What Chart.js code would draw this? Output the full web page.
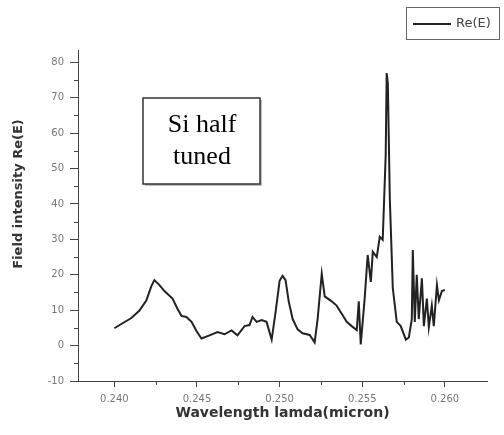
<!DOCTYPE html>
<html>
<head>
<meta charset="utf-8">
<script src="https://cdn.jsdelivr.net/npm/chart.js@4.4.0/dist/chart.umd.min.js"></script>
<style>
  html, body { margin: 0; padding: 0; background: #fff; }
  #wrap { width: 504px; height: 435px; position: relative; }
</style>
</head>
<body>
<div id="wrap"><canvas id="chart" width="504" height="435"></canvas></div>
<script>
// --- dados ---
const wavelength = [
    0.24000, 0.24042, 0.24103, 0.24152, 0.24194, 0.24224, 0.24242, 0.24273, 0.24303, 0.24352,
    0.24382, 0.24406, 0.24436, 0.24467, 0.24497, 0.24527, 0.24576, 0.24624, 0.24667, 0.24709,
    0.24745, 0.24788, 0.24818, 0.24836, 0.24861, 0.24891, 0.24921, 0.24952, 0.24976, 0.25000,
    0.25018, 0.25036, 0.25055, 0.25079, 0.25109, 0.25139, 0.25182, 0.25212, 0.25230, 0.25255,
    0.25273, 0.25315, 0.25345, 0.25376, 0.25406, 0.25436, 0.25467, 0.25479, 0.25491, 0.25515,
    0.25533, 0.25552, 0.25564, 0.25588, 0.25606, 0.25624, 0.25642, 0.25648, 0.25655, 0.25667,
    0.25685, 0.25709, 0.25733, 0.25764, 0.25782, 0.25800, 0.25806, 0.25818, 0.25830, 0.25842,
    0.25861, 0.25873, 0.25891, 0.25903, 0.25921, 0.25933, 0.25952, 0.25964, 0.25982, 0.26000
];
const fieldRe = [
    4.9, 6.1, 7.8, 9.9, 12.8, 16.8, 18.5, 17.1, 15.4, 13.3,
    10.4, 8.4, 8.1, 6.7, 4.1, 2.0, 2.9, 3.8, 3.2, 4.3,
    2.9, 5.5, 5.8, 8.1, 6.7, 7.2, 6.7, 1.7, 9.6, 18.3,
    19.7, 18.5, 12.5, 7.5, 4.6, 3.5, 3.0, 0.9, 7.5, 20.3,
    13.9, 12.5, 11.3, 9.0, 6.7, 5.5, 4.4, 12.5, 0.3, 13.5,
    25.6, 18.0, 26.5, 25.0, 30.7, 29.9, 53.9, 77.0, 74.0, 41.4,
    16.2, 6.7, 5.5, 1.7, 2.3, 7.5, 27.0, 6.7, 20.0, 7.5,
    19.0, 5.5, 13.3, 5.2, 11.3, 5.5, 17.1, 12.8, 15.4, 15.7
];
const xTicks = [0.240, 0.245, 0.250, 0.255, 0.260];
const yTicks = [-10, 0, 10, 20, 30, 40, 50, 60, 70, 80];
const seriesName = 'Re(E)';
const yTitle = 'Field intensity Re(E)';
const xTitle = 'Wavelength lamda(micron)';
const noteLines = ['Si half', 'tuned'];

const axisColor = '#444';
const tickFont = { size: 10, family: '"DejaVu Sans", sans-serif' };
const points = wavelength.map((w, i) => ({ x: w, y: fieldRe[i] }));

// traços menores entre os principais
function minorValues(ticks) {
    const out = [];
    for (let i = 0; i < ticks.length - 1; i++) out.push((ticks[i] + ticks[i + 1]) / 2);
    return out;
}

const extrasPlugin = {
    id: 'extras',
    afterDraw(chart) {
        const ctx = chart.ctx;
        const xs = chart.scales.x, ys = chart.scales.y;
        ctx.save();
        ctx.strokeStyle = axisColor;
        ctx.lineWidth = 1;
        // minor ticks
        minorValues(xTicks).forEach(v => {
            const px = Math.round(xs.getPixelForValue(v)) + 0.5;
            ctx.beginPath(); ctx.moveTo(px, xs.top); ctx.lineTo(px, xs.top + 4); ctx.stroke();
        });
        minorValues(yTicks).forEach(v => {
            const py = Math.round(ys.getPixelForValue(v)) + 0.5;
            ctx.beginPath(); ctx.moveTo(ys.right - 4, py); ctx.lineTo(ys.right, py); ctx.stroke();
        });

        // título do eixo y (deslocado para cima como no original)
        ctx.save();
        ctx.translate(19, 194);
        ctx.rotate(-Math.PI / 2);
        ctx.fillStyle = '#333';
        ctx.font = 'bold 13px "DejaVu Sans", sans-serif';
        ctx.textAlign = 'center';
        ctx.textBaseline = 'middle';
        ctx.fillText(yTitle, 0, 0);
        ctx.restore();

        // caixa de texto
        ctx.fillStyle = 'rgba(0,0,0,0.25)';
        ctx.fillRect(145, 100, 117, 86);
        ctx.fillStyle = '#fff';
        ctx.fillRect(143, 98, 117, 86);
        ctx.strokeStyle = '#333';
        ctx.lineWidth = 1.5;
        ctx.strokeRect(143, 98, 117, 86);
        ctx.fillStyle = '#000';
        ctx.font = '26px "Liberation Serif", "Times New Roman", serif';
        ctx.textAlign = 'center';
        ctx.textBaseline = 'alphabetic';
        ctx.fillText(noteLines[0], 202, 132);
        ctx.fillText(noteLines[1], 202, 164);

        // legenda
        ctx.strokeStyle = '#666';
        ctx.lineWidth = 1;
        ctx.strokeRect(406.5, 7.5, 93, 32);
        ctx.strokeStyle = '#222';
        ctx.lineWidth = 2;
        ctx.beginPath(); ctx.moveTo(413, 24); ctx.lineTo(451, 24); ctx.stroke();
        ctx.fillStyle = '#444';
        ctx.font = '13px "DejaVu Sans", sans-serif';
        ctx.textAlign = 'left';
        ctx.textBaseline = 'middle';
        ctx.fillText(seriesName, 456, 24);
        ctx.restore();
    }
};

new Chart(document.getElementById('chart'), {
    type: 'line',
    data: {
        datasets: [{
            label: seriesName,
            data: points,
            borderColor: '#222',
            borderWidth: 2,
            pointRadius: 0,
            tension: 0,
            fill: false
        }]
    },
    options: {
        responsive: false,
        animation: false,
        layout: { padding: { top: 50, right: 17, left: 0, bottom: 0 } },
        plugins: { legend: { display: false }, tooltip: { enabled: false } },
        scales: {
            x: {
                type: 'linear',
                min: 0.2378,
                max: 0.26255,
                afterBuildTicks: s => { s.ticks = xTicks.map(v => ({ value: v })); },
                afterFit: s => { s.height = 54; },
                ticks: {
                    color: '#777',
                    font: tickFont,
                    padding: 6,
                    maxRotation: 0,
                    callback: v => v.toFixed(3)
                },
                grid: { drawOnChartArea: false, tickLength: 6, color: axisColor },
                border: { color: axisColor, width: 1 },
                title: {
                    display: true,
                    text: xTitle,
                    color: '#333',
                    font: { size: 14, weight: 'bold', family: '"DejaVu Sans", sans-serif' },
                    padding: { top: 4, bottom: 13 }
                }
            },
            y: {
                min: -10,
                max: 83.5,
                afterBuildTicks: s => { s.ticks = yTicks.map(v => ({ value: v })); },
                afterFit: s => { s.width = 78; },
                ticks: {
                    color: '#777',
                    font: tickFont,
                    padding: 6
                },
                grid: { drawOnChartArea: false, tickLength: 8, color: axisColor },
                border: { color: axisColor, width: 1 },
                title: { display: false }
            }
        }
    },
    plugins: [extrasPlugin]
});
</script>
</body>
</html>
